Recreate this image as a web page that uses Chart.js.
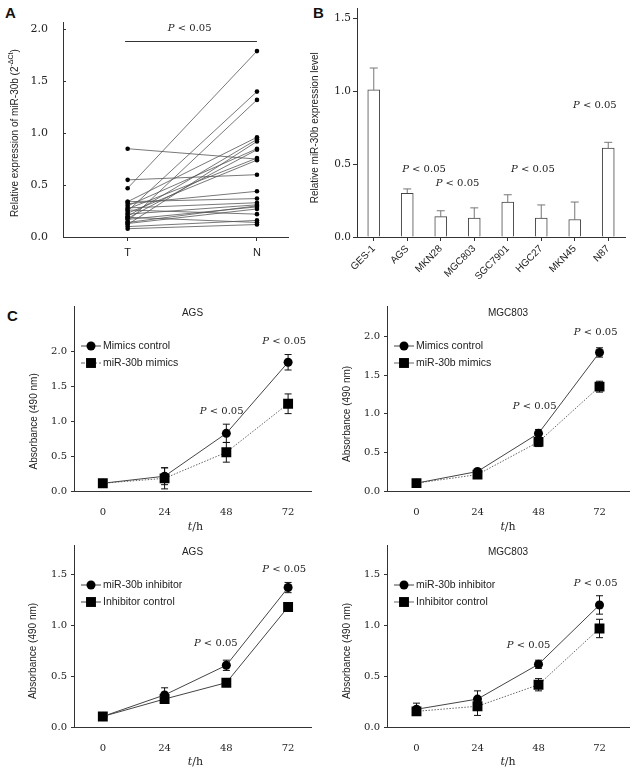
<!DOCTYPE html>
<html>
<head>
<meta charset="utf-8">
<script src="https://cdn.jsdelivr.net/npm/chart.js@4.4.0/dist/chart.umd.min.js"></script>
<style>
    body { margin: 0; background: #fff; width: 636px; height: 769px; position: relative; overflow: hidden; }
    .box { position: absolute; }
    .tag { position: absolute; font: bold 15px "Liberation Sans", Arial, sans-serif; color: #111; line-height: 15px; }
</style>
</head>
<body>
<div class="tag" style="left:5px;top:5px">A</div>
<div class="tag" style="left:313px;top:5px">B</div>
<div class="tag" style="left:7px;top:308px">C</div>

<div class="box" style="left:0;top:0;width:300px;height:265px"><canvas id="chartA"></canvas></div>
<div class="box" style="left:300px;top:0;width:336px;height:290px"><canvas id="chartB"></canvas></div>
<div class="box" style="left:0;top:270px;width:318px;height:265px"><canvas id="chartC1"></canvas></div>
<div class="box" style="left:318px;top:270px;width:318px;height:265px"><canvas id="chartC2"></canvas></div>
<div class="box" style="left:0;top:535px;width:318px;height:234px"><canvas id="chartC3"></canvas></div>
<div class="box" style="left:318px;top:535px;width:318px;height:234px"><canvas id="chartC4"></canvas></div>

<script>
// --- Panel A: paired tumour (T) / normal (N) samples ---
const pairT = [0.47, 0.25, 0.15, 0.85, 0.55, 0.34, 0.20, 0.12, 0.30, 0.18, 0.27, 0.23, 0.32, 0.34, 0.28, 0.22, 0.17, 0.13, 0.26, 0.10, 0.08, 0.19, 0.14];
const pairN = [1.79, 1.40, 1.32, 0.75, 0.60, 0.96, 0.94, 0.92, 0.85, 0.84, 0.76, 0.74, 0.44, 0.37, 0.33, 0.31, 0.29, 0.27, 0.22, 0.16, 0.12, 0.14, 0.30];
const pairLabels = ['T', 'N'];
const yTicksA = [0, 0.5, 1.0, 1.5, 2.0];

// --- Panel B: cell lines ---
const cellLines = ['GES-1', 'AGS', 'MKN28', 'MGC803', 'SGC7901', 'HGC27', 'MKN45', 'N87'];
const cellExpr = [1.01, 0.30, 0.14, 0.13, 0.24, 0.13, 0.12, 0.61];
const cellErr = [0.15, 0.03, 0.04, 0.07, 0.05, 0.09, 0.12, 0.04];
const yTicksB = [0, 0.5, 1.0, 1.5];

// --- Panel C: growth curves ---
const hours = [0, 24, 48, 72];
const agsMimicsCtrl = [0.12, 0.22, 0.83, 1.84];
const agsMimicsCtrlErr = [0.02, 0.12, 0.13, 0.11];
const agsMimics = [0.12, 0.19, 0.56, 1.25];
const agsMimicsErr = [0.02, 0.15, 0.14, 0.14];
const mgcMimicsCtrl = [0.11, 0.26, 0.75, 1.79];
const mgcMimicsCtrlErr = [0.02, 0.03, 0.05, 0.06];
const mgcMimics = [0.11, 0.22, 0.64, 1.35];
const mgcMimicsErr = [0.02, 0.03, 0.06, 0.07];
const agsInhib = [0.11, 0.32, 0.61, 1.37];
const agsInhibErr = [0.03, 0.07, 0.05, 0.05];
const agsInhibCtrl = [0.11, 0.28, 0.44, 1.18];
const agsInhibCtrlErr = [0.02, 0.03, 0.03, 0.04];
const mgcInhib = [0.18, 0.28, 0.62, 1.20];
const mgcInhibErr = [0.06, 0.08, 0.04, 0.09];
const mgcInhibCtrl = [0.16, 0.21, 0.42, 0.97];
const mgcInhibCtrlErr = [0.04, 0.09, 0.06, 0.09];
const yTicksTop = [0, 0.5, 1.0, 1.5, 2.0];
const yTicksBottom = [0, 0.5, 1.0, 1.5];

const SERIF = '"DejaVu Serif", "Liberation Serif", serif';
const SANS = '"Liberation Sans", Arial, sans-serif';
const INK = '#333';

const fixedTicks = (values) => (scale) => { scale.ticks = values.map(v => ({ value: v })); };
const fixWidth = (w) => (scale) => { scale.width = w; };
const fixHeight = (h) => (scale) => { scale.height = h; };

// draws a run of text pieces (italic / superscript) centred or left-aligned at x
function drawRich(ctx, parts, x, y, align) {
    const fontOf = p => `${p.italic ? 'italic ' : ''}${p.size}px ${p.family}`;
    let total = 0;
    parts.forEach(p => { ctx.font = fontOf(p); total += ctx.measureText(p.t).width; });
    let cx = align === 'left' ? x : x - total / 2;
    ctx.textAlign = 'left';
    ctx.textBaseline = 'middle';
    parts.forEach(p => {
        ctx.font = fontOf(p);
        ctx.fillText(p.t, cx, y + (p.dy || 0));
        cx += ctx.measureText(p.t).width;
    });
}

const pNote = (txt) => [
    { t: txt.charAt(0), italic: true, size: 10, family: SERIF },
    { t: txt.slice(1), size: 10, family: SERIF }
];

const figureExtras = {
    id: 'figureExtras',
    beforeDatasetsDraw(chart, args, o) {
        if (!o.errors) return;
        const ctx = chart.ctx, ys = chart.scales.y;
        ctx.save();
        ctx.strokeStyle = o.errColor || INK;
        ctx.lineWidth = 1;
        chart.data.datasets.forEach((ds, i) => {
            const errs = o.errors[i];
            if (!errs) return;
            chart.getDatasetMeta(i).data.forEach((el, j) => {
                const raw = ds.data[j];
                const val = typeof raw === 'object' ? raw.y : raw;
                const top = ys.getPixelForValue(val + errs[j]);
                const bot = o.upOnly ? el.y : ys.getPixelForValue(val - errs[j]);
                ctx.beginPath();
                ctx.moveTo(el.x, top); ctx.lineTo(el.x, bot);
                ctx.moveTo(el.x - o.cap, top); ctx.lineTo(el.x + o.cap, top);
                if (!o.upOnly) { ctx.moveTo(el.x - o.cap, bot); ctx.lineTo(el.x + o.cap, bot); }
                ctx.stroke();
            });
        });
        ctx.restore();
    },
    afterDraw(chart, args, o) {
        const ctx = chart.ctx, ca = chart.chartArea;
        const xs = chart.scales.x, ys = chart.scales.y;
        ctx.save();
        ctx.fillStyle = '#222';
        ctx.strokeStyle = INK;

        if (o.innerTicks) {
            ctx.lineWidth = 1;
            ys.ticks.forEach(t => {
                const py = Math.round(ys.getPixelForValue(t.value)) + 0.5;
                ctx.beginPath(); ctx.moveTo(ca.left, py); ctx.lineTo(ca.left + 3, py); ctx.stroke();
            });
        }
        if (o.bracket) {
            const b = o.bracket;
            const py = Math.round(ys.getPixelForValue(b.y)) + 0.5;
            ctx.lineWidth = 1;
            ctx.beginPath();
            ctx.moveTo(xs.getPixelForValue(b.x0), py);
            ctx.lineTo(xs.getPixelForValue(b.x1), py);
            ctx.stroke();
        }
        (o.notes || []).forEach(n => {
            drawRich(ctx, pNote(n.text), xs.getPixelForValue(n.x), ys.getPixelForValue(n.y), 'center');
        });
        if (o.title) {
            drawRich(ctx, [{ t: o.title, size: 10, family: SANS }], (ca.left + ca.right) / 2, ca.top + 7, 'center');
        }
        if (o.legend) {
            chart.data.datasets.forEach((ds, i) => {
                const ly = ca.top + 40 + i * 17;
                const mx = ca.left + 17;
                ctx.save();
                ctx.strokeStyle = ds.borderColor;
                ctx.lineWidth = 1;
                ctx.setLineDash(ds.legendDash || []);
                ctx.beginPath(); ctx.moveTo(mx - 10, ly); ctx.lineTo(mx + 10, ly); ctx.stroke();
                ctx.setLineDash([]);
                ctx.fillStyle = '#000';
                ctx.strokeStyle = '#000';
                Chart.helpers.drawPoint(ctx, { pointStyle: ds.pointStyle, radius: ds.pointRadius, rotation: 0, borderWidth: 0 }, mx, ly);
                ctx.restore();
                drawRich(ctx, [{ t: ds.label, size: 10.5, family: SANS }], ca.left + 29, ly, 'left');
            });
        }
        if (o.yTitle) {
            const first = ys.getPixelForValue(ys.ticks[0].value);
            const last = ys.getPixelForValue(ys.ticks[ys.ticks.length - 1].value);
            ctx.save();
            ctx.translate(o.yTitle.x, (first + last) / 2);
            ctx.rotate(-Math.PI / 2);
            drawRich(ctx, o.yTitle.parts, 0, 0, 'center');
            ctx.restore();
        }
        if (o.xTitle) {
            const first = xs.getPixelForValue(xs.ticks[0].value);
            const last = xs.getPixelForValue(xs.ticks[xs.ticks.length - 1].value);
            drawRich(ctx, o.xTitle.parts, (first + last) / 2, o.xTitle.y, 'center');
        }
        ctx.restore();
    }
};
Chart.register(figureExtras);
Chart.defaults.animation = false;
Chart.defaults.color = '#222';

const axisLine = { display: true, color: INK, width: 1 };

// --- Panel A ---
new Chart(document.getElementById('chartA'), {
    type: 'line',
    data: {
        datasets: pairT.map((t, i) => ({
            data: [{ x: 0, y: t }, { x: 1, y: pairN[i] }],
            borderColor: '#555',
            borderWidth: 0.8,
            pointRadius: 2.3,
            pointBackgroundColor: '#000',
            pointBorderWidth: 0
        }))
    },
    options: {
        responsive: true,
        maintainAspectRatio: false,
        layout: { padding: { left: 0, right: 12, top: 22, bottom: 0 } },
        plugins: {
            legend: { display: false },
            tooltip: { enabled: false },
            figureExtras: {
                innerTicks: true,
                bracket: { x0: -0.02, x1: 1, y: 1.887 },
                notes: [{ x: 0.48, y: 2.01, text: 'P < 0.05' }],
                yTitle: {
                    x: 15,
                    parts: [
                        { t: 'Relative expression of miR-30b (2', size: 10, family: SANS },
                        { t: '-ΔCt', size: 7, family: SANS, dy: -4 },
                        { t: ')', size: 10, family: SANS }
                    ]
                }
            }
        },
        scales: {
            x: {
                type: 'linear', min: -0.5, max: 1.24,
                afterBuildTicks: fixedTicks([0, 1]),
                afterFit: fixHeight(28),
                border: axisLine,
                grid: { drawOnChartArea: false, drawTicks: true, tickLength: 4, color: INK },
                ticks: { autoSkip: false, padding: 5, font: { family: SANS, size: 11 }, callback: v => pairLabels[v] }
            },
            y: {
                min: 0, max: 2.07,
                afterBuildTicks: fixedTicks(yTicksA),
                afterFit: fixWidth(63),
                border: axisLine,
                grid: { display: false },
                ticks: { padding: 7, font: { family: SERIF, size: 11 }, callback: v => v.toFixed(1) }
            }
        }
    }
});

// --- Panel B ---
new Chart(document.getElementById('chartB'), {
    type: 'bar',
    data: {
        labels: cellLines,
        datasets: [{
            data: cellExpr,
            backgroundColor: '#fff',
            borderColor: '#444',
            borderWidth: 1,
            barThickness: 12
        }]
    },
    options: {
        responsive: true,
        maintainAspectRatio: false,
        layout: { padding: { left: 0, right: 11, top: 3, bottom: 0 } },
        plugins: {
            legend: { display: false },
            tooltip: { enabled: false },
            figureExtras: {
                errors: [cellErr],
                upOnly: true,
                cap: 4,
                errColor: '#777',
                notes: [
                    { x: 1.5, y: 0.466, text: 'P < 0.05' },
                    { x: 2.5, y: 0.365, text: 'P < 0.05' },
                    { x: 4.75, y: 0.466, text: 'P < 0.05' },
                    { x: 6.6, y: 0.90, text: 'P < 0.05' }
                ],
                yTitle: { x: 15, parts: [{ t: 'Relative miR-30b expression level', size: 10, family: SANS }] }
            }
        },
        scales: {
            x: {
                afterFit: fixHeight(53),
                border: axisLine,
                grid: { drawOnChartArea: false, offset: false, drawTicks: true, tickLength: 4, color: INK },
                ticks: { autoSkip: false, minRotation: 45, maxRotation: 45, padding: 2, font: { family: SANS, size: 10 } }
            },
            y: {
                min: 0, max: 1.57,
                afterBuildTicks: fixedTicks(yTicksB),
                afterFit: fixWidth(57),
                border: axisLine,
                grid: { drawOnChartArea: false, drawTicks: true, tickLength: 4, color: INK },
                ticks: { padding: 2, font: { family: SERIF, size: 10.5 }, callback: v => v.toFixed(1) }
            }
        }
    }
});

// --- Panel C ---
const toPoints = (vals) => hours.map((h, i) => ({ x: h, y: vals[i] }));

function growthChart(id, cfg) {
    const series = (s, isSquare) => ({
        label: s.label,
        data: toPoints(s.values),
        borderColor: s.dotted ? '#666' : '#444',
        borderWidth: 1,
        borderDash: s.dotted ? [1.5, 1.5] : [],
        legendDash: s.legendDash,
        pointStyle: isSquare ? 'rect' : 'circle',
        pointRadius: isSquare ? 7 : 4.5,
        pointBackgroundColor: '#000',
        pointBorderWidth: 0,
        tension: 0
    });
    new Chart(document.getElementById(id), {
        type: 'line',
        data: { datasets: [series(cfg.circle, false), series(cfg.square, true)] },
        options: {
            responsive: true,
            maintainAspectRatio: false,
            layout: { padding: { left: 0, right: cfg.right, top: cfg.top, bottom: 0 } },
            plugins: {
                legend: { display: false },
                tooltip: { enabled: false },
                figureExtras: {
                    errors: [cfg.circle.errors, cfg.square.errors],
                    cap: 3.5,
                    errColor: '#111',
                    title: cfg.title,
                    legend: true,
                    notes: cfg.notes,
                    yTitle: { x: cfg.yTitleX, parts: [{ t: 'Absorbance (490 nm)', size: 10, family: SANS }] },
                    xTitle: {
                        y: cfg.xTitleY,
                        parts: [
                            { t: 't', italic: true, size: 11, family: SERIF },
                            { t: '/h', size: 11, family: SERIF }
                        ]
                    }
                }
            },
            scales: {
                x: {
                    type: 'linear', min: cfg.xMin, max: cfg.xMax,
                    afterBuildTicks: fixedTicks(hours),
                    afterFit: fixHeight(cfg.xHeight),
                    border: axisLine,
                    grid: { display: false },
                    ticks: { autoSkip: false, padding: 7, font: { family: SERIF, size: 10 } }
                },
                y: {
                    min: 0, max: cfg.yMax,
                    afterBuildTicks: fixedTicks(cfg.yTicks),
                    afterFit: fixWidth(cfg.yWidth),
                    border: axisLine,
                    grid: { drawOnChartArea: false, drawTicks: true, tickLength: 3, color: INK },
                    ticks: { padding: 4, font: { family: SERIF, size: 10 }, callback: v => v.toFixed(1) }
                }
            }
        }
    });
}

growthChart('chartC1', {
    title: 'AGS', top: 36, right: 5, yWidth: 74, xHeight: 43.3, xMin: -11.2, xMax: 80.9,
    yMax: 2.64, yTicks: yTicksTop, yTitleX: 34, xTitleY: 257,
    circle: { label: 'Mimics control', values: agsMimicsCtrl, errors: agsMimicsCtrlErr },
    square: { label: 'miR-30b mimics', values: agsMimics, errors: agsMimicsErr, dotted: true, legendDash: [4, 2] },
    notes: [{ x: 70.5, y: 2.14, text: 'P < 0.05' }, { x: 46.2, y: 1.147, text: 'P < 0.05' }]
});
growthChart('chartC2', {
    title: 'MGC803', top: 36, right: 3, yWidth: 69, xHeight: 43.3, xMin: -11.6, xMax: 83.6,
    yMax: 2.387, yTicks: yTicksTop, yTitleX: 29, xTitleY: 257,
    circle: { label: 'Mimics control', values: mgcMimicsCtrl, errors: mgcMimicsCtrlErr },
    square: { label: 'miR-30b mimics', values: mgcMimics, errors: mgcMimicsErr, dotted: true },
    notes: [{ x: 70.5, y: 2.05, text: 'P < 0.05' }, { x: 46.5, y: 1.10, text: 'P < 0.05' }]
});
growthChart('chartC3', {
    title: 'AGS', top: 7.7, right: 5, yWidth: 74, xHeight: 41.3, xMin: -11.2, xMax: 80.9,
    yMax: 1.786, yTicks: yTicksBottom, yTitleX: 33, xTitleY: 227,
    circle: { label: 'miR-30b inhibitor', values: agsInhib, errors: agsInhibErr },
    square: { label: 'Inhibitor control', values: agsInhibCtrl, errors: agsInhibCtrlErr },
    notes: [{ x: 70.5, y: 1.55, text: 'P < 0.05' }, { x: 43.9, y: 0.82, text: 'P < 0.05' }]
});
growthChart('chartC4', {
    title: 'MGC803', top: 7.7, right: 3, yWidth: 69, xHeight: 41.3, xMin: -11.6, xMax: 83.6,
    yMax: 1.786, yTicks: yTicksBottom, yTitleX: 29, xTitleY: 227,
    circle: { label: 'miR-30b inhibitor', values: mgcInhib, errors: mgcInhibErr },
    square: { label: 'Inhibitor control', values: mgcInhibCtrl, errors: mgcInhibCtrlErr, dotted: true },
    notes: [{ x: 70.5, y: 1.415, text: 'P < 0.05' }, { x: 44.1, y: 0.80, text: 'P < 0.05' }]
});
</script>
</body>
</html>
